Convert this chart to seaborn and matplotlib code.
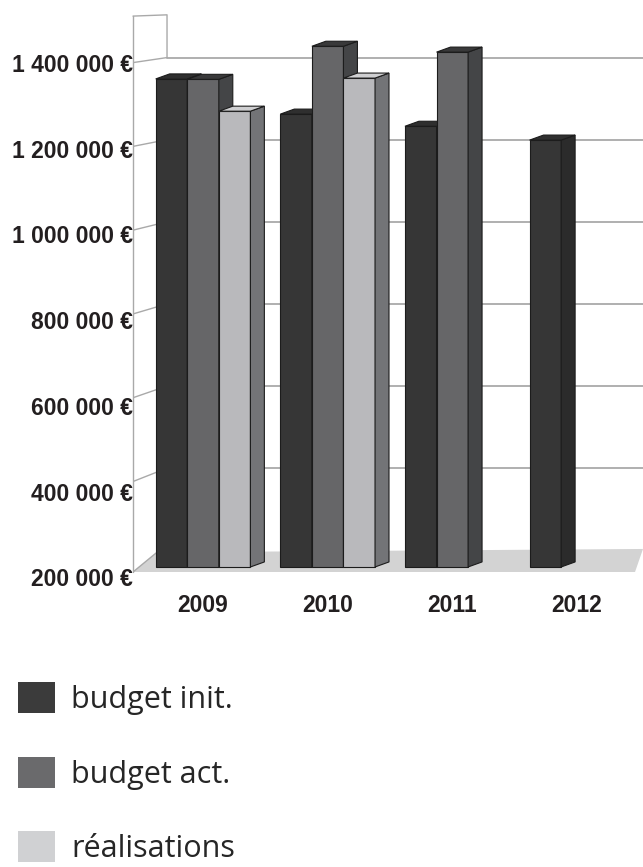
import matplotlib
matplotlib.use('Agg')
import matplotlib.pyplot as plt
import matplotlib.transforms as mtrans
from matplotlib.patches import Polygon, Patch
from matplotlib.colors import to_hex
import seaborn as sns
import numpy as np
import pandas as pd

# donnees
annees = ['2009', '2010', '2011', '2012']
budget_init = [1365000, 1281000, 1252000, 1219000]
budget_act = [1364000, 1443000, 1429000, np.nan]
realisations = [1288000, 1367000, np.nan, np.nan]
series = ['budget init.', 'budget act.', 'réalisations']
graduations = [200000, 400000, 600000, 800000, 1000000, 1200000, 1400000]

# couleurs face / cote / dessus / legende
face = {'budget init.': '#363636', 'budget act.': '#666668', 'réalisations': '#b8b9bc'}
cote = {'budget init.': '#2b2b2b', 'budget act.': '#444547', 'réalisations': '#737477'}
dessus = {'budget init.': '#2f2f2f', 'budget act.': '#39393a', 'réalisations': '#cfcfd1'}
legende = {'budget init.': '#3b3b3b', 'budget act.': '#6a6a6c', 'réalisations': '#d0d1d3'}

df = pd.DataFrame({
    'annee': annees * 3,
    'serie': np.repeat(series, len(annees)),
    'montant': budget_init + budget_act + realisations,
})

sns.set_theme(style='white')
plt.rcParams['font.family'] = ['Liberation Sans', 'DejaVu Sans']

fig = plt.figure(figsize=(6.43, 8.67), dpi=100)
ax = fig.add_axes([133 / 643, (867 - 572) / 867, 510 / 643, (572 - 14) / 867])

sns.barplot(data=df, x='annee', y='montant', hue='serie', hue_order=series,
            palette=face, width=0.76, gap=0, errorbar=None, legend=False,
            edgecolor='#1c1c1c', linewidth=0.8, ax=ax)

base = 200000
xl, xr = -0.562, 3.53
ax.set_xlim(xl, xr)
ax.set_ylim(188000, 1520000)

# profondeur des barres
pdx, pdy = 0.112, 12000
barres = [p for p in ax.patches if np.isfinite(p.get_height()) and p.get_height() > 0]
barres.sort(key=lambda p: p.get_x())
inv = {to_hex(c): s for s, c in face.items()}
for i, p in enumerate(barres):
    s = inv.get(to_hex(p.get_facecolor()), series[0])
    haut = p.get_y() + p.get_height()
    p.set_y(base)
    p.set_height(haut - base)
    z = 3 + 0.01 * i
    p.set_zorder(z)
    x0, x1 = p.get_x(), p.get_x() + p.get_width()
    ax.add_patch(Polygon([(x1, base), (x1 + pdx, base + pdy), (x1 + pdx, haut + pdy), (x1, haut)],
                         closed=True, facecolor=cote[s], edgecolor='#1c1c1c', lw=0.8, zorder=z + 0.005))
    ax.add_patch(Polygon([(x0, haut), (x0 + pdx, haut + pdy), (x1 + pdx, haut + pdy), (x1, haut)],
                         closed=True, facecolor=dessus[s], edgecolor='#1c1c1c', lw=0.8, zorder=z + 0.005))

# sol et murs
gris = '#a9a9a9'
xb = -0.289
def fond(v):
    return 240000 + (v - base) * 0.98
ax.add_patch(Polygon([(xl, 188000), (3.466, 188000), (xr, 243000), (-0.37, 235000)],
                     closed=True, facecolor='#d3d3d3', edgecolor='none', zorder=0.5, clip_on=False))
ax.plot([xl, -0.37], [188000, 235000], color=gris, lw=1, zorder=0.6)
for v in graduations[1:]:
    ax.plot([xb, xr], [fond(v), fond(v)], color=gris, lw=1.3, zorder=1, clip_on=False)
    ax.plot([xl, xb], [v + 4000, fond(v)], color=gris, lw=1, zorder=1)
ax.plot([xl, xl], [188000, 1515000], color=gris, lw=1, zorder=1, clip_on=False)
ax.plot([xl, xb, xb], [1515000, 1518000, fond(1400000)], color=gris, lw=1, zorder=1, clip_on=False)

for sp in ax.spines.values():
    sp.set_visible(False)

ax.set_yticks(graduations)
ax.set_yticklabels(['{:,}'.format(v).replace(',', ' ') + ' €' for v in graduations],
                   fontsize=16.5, fontweight='bold', color='#231f20')
ax.tick_params(axis='y', length=0, pad=0)
ax.tick_params(axis='x', length=0, pad=16)
for lab in ax.get_xticklabels():
    lab.set_fontsize(16.5)
    lab.set_fontweight('bold')
    lab.set_color('#231f20')
for v, lab in zip(graduations, ax.get_yticklabels()):
    dec = (7.5 - (v - base) / 1200000 * 8.5) / 72
    lab.set_transform(lab.get_transform() + mtrans.ScaledTranslation(0, -dec, fig.dpi_scale_trans))
ax.set_xlabel('')
ax.set_ylabel('')

poignees = [Patch(facecolor=legende[s], edgecolor='none') for s in series]
fig.legend(poignees, series, loc='upper left', bbox_to_anchor=(18 / 643, (867 - 682) / 867),
           frameon=False, prop={'family': 'Open Sans', 'size': 22}, handlelength=1.2,
           handleheight=1.2, handletextpad=0.55, labelspacing=1.36, borderpad=0, borderaxespad=0)

fig.savefig('out.png', dpi=100, facecolor='white')
